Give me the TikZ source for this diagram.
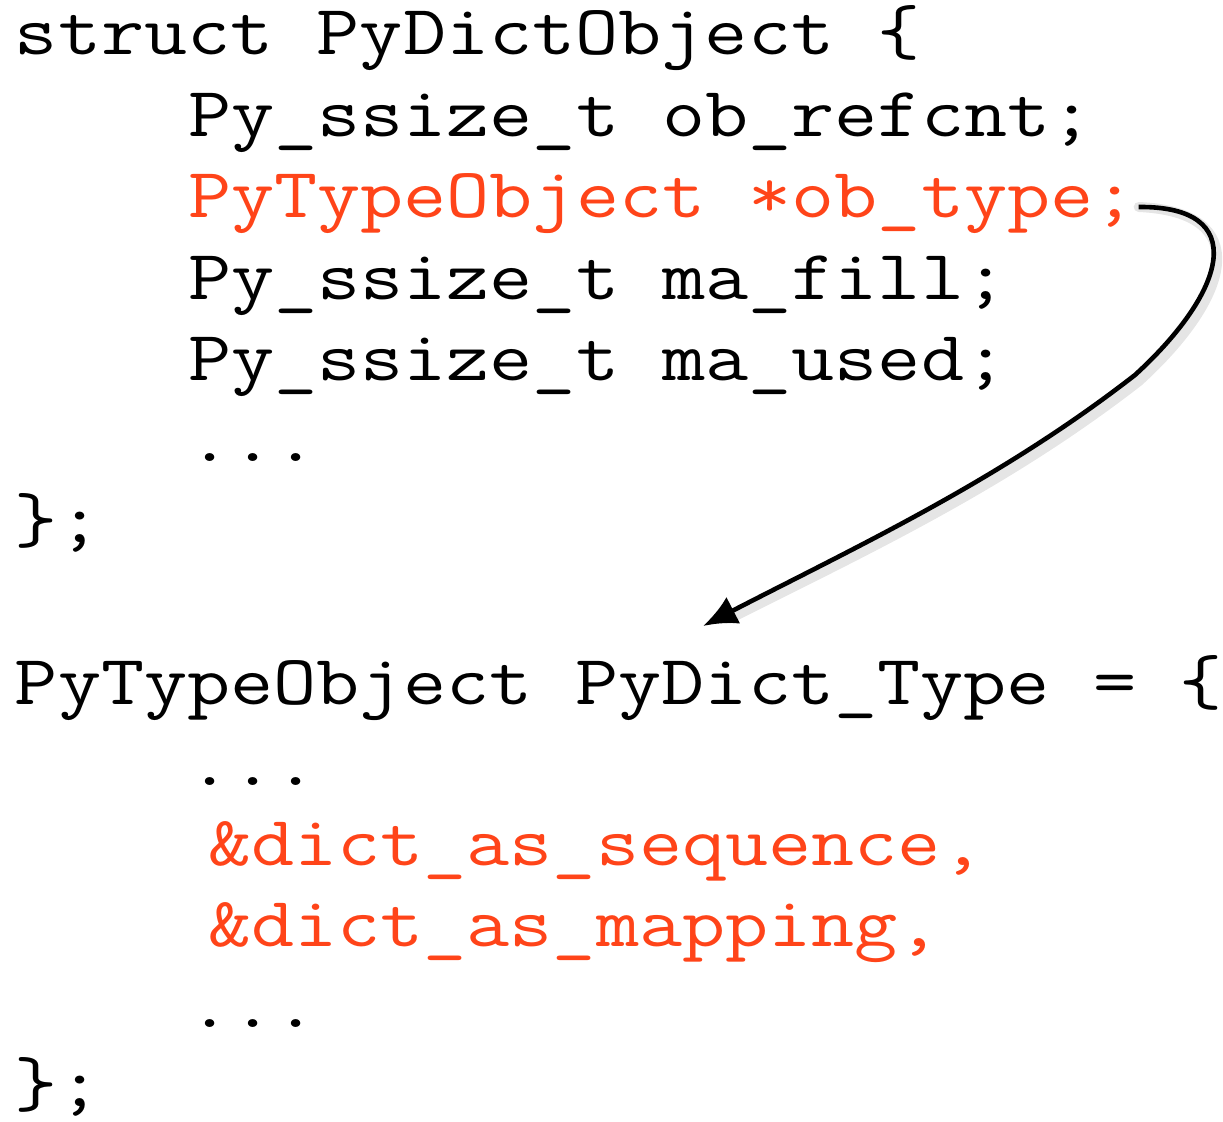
\documentclass[tikz,border=0pt]{standalone}
\usepackage{fontspec}
\usepackage{graphicx}
\usetikzlibrary{arrows.meta}
\definecolor{codered}{HTML}{FF4419}
\newcommand{\codeline}[1]{\scalebox{1.186}[1]{\fontsize{35.3}{36}\selectfont\ttfamily #1}}
\begin{document}
\begin{tikzpicture}[x=0.5pt,y=-0.5pt,
  code/.style={anchor=base west,inner sep=0pt,outer sep=0pt,text=black},
  hl/.style={code,text=codered},
  arr/.style={line width=2.3pt,-{Latex[length=17pt,width=15pt]}}]
\useasboundingbox (0,0) rectangle (1223,1122);
\node[code] (l1) at (15,55) {\codeline{struct PyDictObject \{}};
\node[code] (l2) at (188,137) {\codeline{Py\_ssize\_t ob\_refcnt;}};
\node[hl] (l3) at (188,218) {\codeline{PyTypeObject *ob\_type;}};
\node[code] (l4) at (188,300) {\codeline{Py\_ssize\_t ma\_fill;}};
\node[code] (l5) at (188,381) {\codeline{Py\_ssize\_t ma\_used;}};
\node[code] (l6) at (188,462) {\codeline{...}};
\node[code] (l7) at (15,543) {\codeline{\};}};
\node[code] (m1) at (15,705) {\codeline{PyTypeObject PyDict\_Type = \{}};
\node[code] (m2) at (188,786) {\codeline{...}};
\node[hl] (m3) at (208,866) {\codeline{\&dict\_as\_sequence,}};
\node[hl] (m4) at (208,947) {\codeline{\&dict\_as\_mapping,}};
\node[code] (m5) at (188,1028) {\codeline{...}};
\node[code] (m6) at (15,1107) {\codeline{\};}};
\coordinate (start) at ([xshift=1pt,yshift=5.5pt]l3.base east);
\coordinate (tip) at (703,626);
\begin{scope}[shift={(4,6)}]
\draw[line width=5pt,black,opacity=0.10,line cap=round] (start) .. controls (1250,206) and (1228,290) .. (1135,375) .. controls (1000,480) and (860,545) .. (725,613);
\end{scope}
\draw[arr] (start) .. controls (1250,206) and (1228,290) .. (1135,375) .. controls (1000,480) and (860,545) .. (tip);
\end{tikzpicture}
\end{document}
